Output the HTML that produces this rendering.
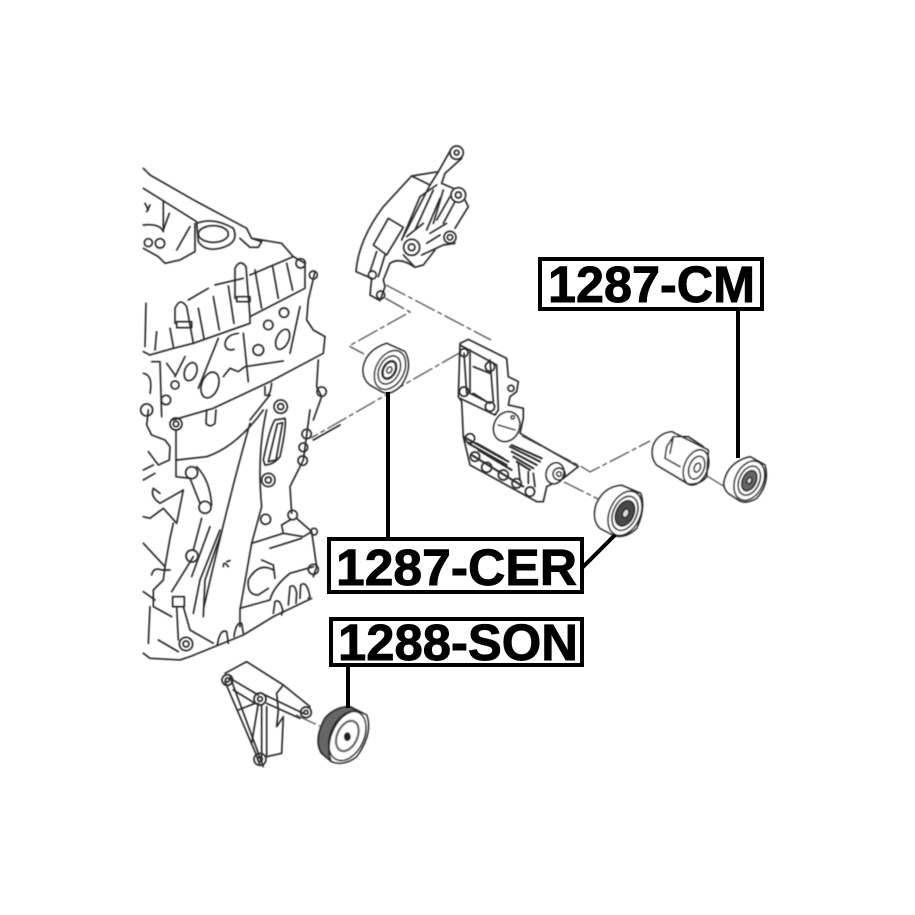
<!DOCTYPE html>
<html><head><meta charset="utf-8"><style>
html,body{margin:0;padding:0;background:#fff}
svg{display:block}
.l{fill:none;stroke:#2a2a2a;stroke-width:5;stroke-linecap:round;stroke-linejoin:round}
.d{fill:none;stroke:#555;stroke-width:1.3;stroke-dasharray:22 3 5 3}
.t{font-family:"Liberation Sans",sans-serif;font-weight:bold;font-size:51px;fill:#000;stroke:#000;stroke-width:.9}
</style></head><body>
<svg width="915" height="915" viewBox="0 0 915 915" xmlns="http://www.w3.org/2000/svg">
<defs><filter id="b" x="-5%" y="-5%" width="110%" height="110%"><feGaussianBlur stdDeviation=".45"/></filter></defs>
<rect width="915" height="915" fill="#fff"/>
<g filter="url(#b)">
<!-- engine top -->
<g transform="translate(130,160) scale(.3333)" class="l">
<path d="M40,25 L60,45 L200,125 L350,205 L365,235 L395,245 L385,262 L360,262 L330,235 M365,235 L455,250 L490,290 L525,310 L525,385 L360,470 L360,490 L190,550 L130,565 L60,585 L40,575"/>
<path d="M40,85 L200,185 M200,190 Q250,170 310,205 Q330,250 270,265 Q225,275 205,245 Z"/>
<ellipse cx="250" cy="222" rx="45" ry="25"/>
<path d="M195,190 L195,275 L150,300 L105,310 L85,290 L40,265"/>
<path d="M100,125 L100,215 M118,160 L100,210 M180,200 L140,270 M45,130 L55,150 M60,135 L50,155 M40,195 Q90,190 100,215"/>
<circle cx="90" cy="250" r="14"/><circle cx="55" cy="248" r="12"/>
<path d="M490,290 L360,345 M340,355 L255,375 M235,385 L175,420"/>
<path d="M315,415 L315,325 Q330,295 348,320 L360,470"/>
<path d="M135,490 L135,445 Q150,410 170,440 L190,550"/>
<rect x="320" y="410" width="40" height="15"/><rect x="140" y="485" width="45" height="18"/>
<path d="M375,330 L395,445 M428,320 L445,415 M470,310 L488,390 M295,378 L312,490 M250,410 L268,510 M205,445 L222,535 M80,515 L75,570 M120,505 L130,560 M48,430 L45,560"/>
<path d="M555,335 L535,420 L530,480 L550,510 L585,530 L580,580 L420,665 L250,745 L130,780"/>
<circle cx="550" cy="345" r="12"/><circle cx="512" cy="310" r="14"/>
<path d="M325,520 Q285,525 285,555 Q290,575 312,568 M340,520 L355,665 M265,535 L205,685"/>
<ellipse cx="240" cy="675" rx="25" ry="40" transform="rotate(20 240 675)"/>
<ellipse cx="458" cy="538" rx="18" ry="32" transform="rotate(25 458 538)"/>
<circle cx="385" cy="570" r="16"/><circle cx="462" cy="458" r="14"/><circle cx="415" cy="495" r="14"/>
<path d="M280,650 L300,625 L325,635 L345,620 L460,603 M510,440 L480,580"/>
<path d="M565,600 L560,680 L575,710 L550,780"/>
<circle cx="575" cy="695" r="14"/>
<path d="M405,680 L405,705 Q420,715 425,670"/>
<circle cx="452" cy="740" r="20"/><circle cx="452" cy="740" r="9"/>
<path d="M360,780 L420,705"/>
<path d="M40,640 Q70,645 60,700 M65,605 L90,605 L95,770 M110,610 L135,645 M165,590 L135,650"/>
<ellipse cx="182" cy="635" rx="18" ry="28" transform="rotate(20 182 635)"/>
<circle cx="135" cy="675" r="12"/><circle cx="108" cy="720" r="14"/><circle cx="50" cy="750" r="18"/>
</g>

<!-- engine bottom -->
<g transform="translate(130,410) scale(.3333)" class="l">
<circle cx="138" cy="42" r="18"/><circle cx="138" cy="42" r="8"/>
<path d="M138,60 L138,200 L180,205 M140,150 L230,140 Q320,110 400,0"/>
<path d="M230,0 L228,40 Q240,55 255,40 L258,0"/>
<path d="M55,0 L50,45 L65,75 L105,90 L120,110 L118,150 L85,165 L55,125"/>
<path d="M40,180 L70,165 M40,210 L75,190"/>
<circle cx="185" cy="188" r="18"/><circle cx="225" cy="292" r="18"/>
<path d="M200,170 Q240,210 245,285 M180,205 L210,280"/>
<path d="M215,325 L190,420 M240,350 L185,500 M270,360 L210,510 L190,610 M275,365 L225,510 L220,620"/>
<circle cx="186" cy="438" r="18"/>
<path d="M360,40 Q300,250 222,590 M410,0 Q380,130 395,290 L365,400 L330,600 L330,650"/>
<path d="M435,30 L465,25 Q470,50 450,140 Q430,165 405,165 L400,150 Q420,50 435,30 Z M442,42 L458,38 L438,150 L415,155 Z"/>
<circle cx="415" cy="210" r="20"/><circle cx="415" cy="210" r="9"/><circle cx="407" cy="328" r="15"/>
<path d="M540,0 L520,150 L480,230 L485,310"/>
<circle cx="530" cy="72" r="14"/><circle cx="520" cy="112" r="13"/><circle cx="518" cy="152" r="14"/>
<path d="M550,90 L630,45"/>
<circle cx="488" cy="315" r="14"/>
<path d="M480,330 L455,345 L460,370 L520,380 L545,365 L500,325 M460,370 L365,400 M515,385 L420,415 M545,365 L560,470 L550,500"/>
<circle cx="552" cy="365" r="10"/><circle cx="550" cy="478" r="15"/>
<path d="M550,470 L480,490 Q430,530 420,570 L330,595"/>
<path d="M430,480 Q385,455 355,510 Q350,555 385,555 L415,535 M435,505 L430,465 L395,450"/>
<path d="M430,610 L435,575 Q450,565 458,600 L455,615 M475,585 L480,530 Q495,520 500,550 L498,580 M510,565 L512,525 Q530,510 540,560 L535,565"/>
<path d="M262,705 Q270,655 290,665 L295,700 M312,680 Q318,635 335,640 L340,670"/>
<path d="M295,470 Q280,450 280,470 M290,455 L300,452"/>
<path d="M545,565 L430,620 L340,675 L180,740 L150,750 L60,745 L40,730"/>
<circle cx="168" cy="702" r="20"/><circle cx="168" cy="702" r="9"/>
<rect x="128" y="560" width="35" height="30"/>
<path d="M125,545 L190,440 M140,590 L145,690 M160,590 L180,660 L250,700"/>
<path d="M40,400 L105,470 L100,510 L70,540 L70,590 L125,620 M60,590 L55,700 M85,690 L145,725 M40,545 L75,570 M65,495 Q70,470 95,480 L120,480"/>
<path d="M130,340 L120,385 L105,470 M40,320 L60,325 L100,295 L140,340 L160,240 L90,280 Q60,260 70,235 L90,250"/>
</g>

<!-- upper bracket -->
<g transform="translate(340,140) scale(.3333)" class="l">
<circle cx="350" cy="38" r="20"/><circle cx="350" cy="38" r="7"/>
<path d="M333,28 L295,95 L215,108 L130,200 Q55,300 48,395 L95,415 L90,465 L120,482 L135,440 L130,420 L150,370"/>
<path d="M365,55 L315,100 L305,130 L340,145 M215,108 L270,135 L295,95 M270,135 L190,290"/>
<path d="M145,235 L190,262 L140,345 L100,315 Z"/>
<circle cx="355" cy="165" r="22"/><circle cx="355" cy="165" r="9"/>
<circle cx="330" cy="292" r="18"/><circle cx="330" cy="292" r="8"/>
<circle cx="215" cy="322" r="24"/><circle cx="215" cy="322" r="10"/>
<path d="M375,180 L385,200 L345,265 M310,150 L280,250 M330,170 L290,240 M345,185 L310,250 M290,135 L240,170 L185,300 M260,310 L300,285 M245,345 L310,315 L345,310 M190,345 L225,382 L250,375 L285,330 M280,150 L225,270 M300,175 L260,270 M270,280 L320,250 M200,290 L250,250"/>
<path d="M110,335 L90,395 M135,345 L115,410 M150,370 Q180,350 225,382"/>
<circle cx="97" cy="405" r="12"/><circle cx="122" cy="465" r="12"/>
</g>

<!-- dashed centre lines -->
<g class="d">
<path d="M386,285 L491,340"/>
<path d="M385,298 L410,312 L349,346 L364,354"/>
<path d="M461,352 L311,438"/>
<path d="M522,436 L582,467 L590,472 L650,441"/>
<path d="M564,482 L600,500"/>
<path d="M707,476 L725,487"/>
<path d="M296,715 L326,729"/>
</g>

<!-- main tensioner -->
<g transform="translate(440,330) scale(.3333)" class="l">
<path d="M60,40 L85,28 L200,85 L205,140 L235,155 L230,185 L210,200 L205,225 L250,235 L250,265 L240,310 L415,410 L370,445 L320,470 L310,515 L290,515 L90,405 L70,320 L65,215 L55,200 Z"/>
<path d="M60,45 L170,105 L175,240 L165,255 L60,205 M72,70 L80,190 M150,90 L160,215 M100,110 L150,130 M100,190 L140,215 M90,60 L90,190 L150,220"/>
<circle cx="72" cy="68" r="12"/><circle cx="150" cy="110" r="14"/><circle cx="72" cy="185" r="14"/><circle cx="150" cy="230" r="14"/>
<circle cx="213" cy="175" r="9"/>
<ellipse cx="200" cy="290" rx="38" ry="46" transform="rotate(25 200 290)" fill="#fff"/>
<circle cx="218" cy="262" r="5"/><path d="M175,285 L225,300"/>
<path d="M70,320 L205,395 M85,340 L200,405 M95,375 L250,470 M210,350 L300,395 M215,365 L290,405 M220,380 L280,415 M230,395 L270,420 M110,340 L190,385 M115,360 L215,420 M215,345 L305,385" stroke-width="6"/>
<circle cx="90" cy="325" r="14"/><circle cx="105" cy="380" r="14"/><circle cx="140" cy="412" r="15"/><circle cx="190" cy="435" r="15"/><circle cx="230" cy="460" r="14"/><circle cx="270" cy="485" r="14"/>
<path d="M235,400 L240,450 M265,425 L265,460 M280,430 L285,470"/>
<ellipse cx="345" cy="430" rx="26" ry="32" transform="rotate(20 345 430)" fill="#fff"/>
<circle cx="357" cy="432" r="18"/><circle cx="357" cy="432" r="7"/>
</g>

<!-- pulley CER -->
<g class="l" transform="translate(440,330) scale(.3333)">
<path d="M468,525 Q490,470 545,466 L602,490 Q618,535 590,595 Q555,628 520,616 L480,595 Q455,570 468,525 Z" fill="#fff"/>
<ellipse cx="555" cy="550" rx="46" ry="70" transform="rotate(25 555 550)"/>
<ellipse cx="555" cy="550" rx="35" ry="54" transform="rotate(25 555 550)"/>
<ellipse cx="555" cy="550" rx="26" ry="40" transform="rotate(25 555 550)" fill="#4a4a4a"/>
<ellipse cx="557" cy="550" rx="9" ry="14" transform="rotate(25 557 550)" fill="#ddd"/>
</g>
<!-- shaft -->
<g class="l" transform="translate(440,330) scale(.3333)">
<path d="M640,345 Q655,310 695,305 L805,360 L800,440 Q780,465 745,462 L650,405 Q630,380 640,345 Z" fill="#fff"/>
<ellipse cx="768" cy="412" rx="35" ry="55" transform="rotate(22 768 412)"/>
<ellipse cx="770" cy="413" rx="22" ry="36" transform="rotate(22 770 413)"/>
<ellipse cx="772" cy="413" rx="9" ry="14" transform="rotate(22 772 413)"/>
<path d="M680,350 L700,320 L745,320 L790,350 M680,350 L675,385 L720,410 M700,320 L690,370"/>
</g>
<!-- pulley CM -->
<g class="l" transform="translate(440,330) scale(.3333)">
<path d="M855,445 Q870,395 930,380 L975,405 Q990,460 950,505 Q915,525 895,510 L865,490 Q845,470 855,445 Z" fill="#fff"/>
<ellipse cx="928" cy="452" rx="42" ry="62" transform="rotate(25 928 452)"/>
<ellipse cx="928" cy="452" rx="30" ry="46" transform="rotate(25 928 452)"/>
<ellipse cx="928" cy="452" rx="20" ry="32" transform="rotate(25 928 452)" fill="#666"/>
<ellipse cx="928" cy="452" rx="7" ry="10" transform="rotate(25 928 452)" fill="#ddd"/>
</g>
<!-- pulley at 388 -->
<g class="l" transform="translate(340,140) scale(.3333)">
<path d="M70,680 Q80,630 140,610 L195,635 Q220,680 185,735 Q150,770 125,755 L90,735 Q65,715 70,680 Z" fill="#fff"/>
<ellipse cx="150" cy="690" rx="42" ry="62" transform="rotate(28 150 690)"/>
<ellipse cx="148" cy="690" rx="30" ry="45" transform="rotate(28 148 690)"/>
<ellipse cx="148" cy="690" rx="18" ry="28" transform="rotate(28 148 690)" stroke-width="8"/>
<ellipse cx="148" cy="690" rx="7" ry="10" transform="rotate(28 148 690)"/>
</g>

<!-- lower bracket and grooved pulley -->
<g transform="translate(210,650) scale(.3333)" class="l">
<path d="M45,70 L110,35 L220,105 L300,170 M45,95 L135,305 L150,345 M60,80 L160,350 M60,85 L145,135 M70,120 L135,160 M85,180 L135,160 M145,160 L125,280 M155,165 L155,320 M170,170 L170,320 L215,310 L220,200 L200,230 L205,180 L200,130 L220,105 M165,135 L280,190 M170,160 L270,205"/>
<circle cx="52" cy="90" r="16"/><circle cx="150" cy="147" r="18"/><circle cx="150" cy="328" r="18"/><circle cx="288" cy="187" r="16"/><circle cx="288" cy="187" r="6"/><circle cx="150" cy="328" r="7"/><circle cx="150" cy="147" r="7"/><circle cx="52" cy="90" r="6"/>
<path d="M345,205 Q375,170 420,170 L470,195 Q490,250 440,320 Q400,350 365,335 L335,310 Q310,270 345,205 Z" fill="#fff"/>
<path d="M345,205 Q375,170 420,170 L438,182 Q385,190 362,260 Q350,310 365,335 L335,310 Q310,270 345,205 Z" fill="#666" stroke-width="5"/>
<ellipse cx="412" cy="258" rx="50" ry="78" transform="rotate(25 412 258)"/>
<ellipse cx="412" cy="258" rx="30" ry="48" transform="rotate(25 412 258)" stroke-width="7" stroke="#666"/>
<ellipse cx="412" cy="260" rx="8" ry="11" fill="#222"/>
</g>
</g>

<!-- leaders -->
<g fill="none" stroke="#000" stroke-width="4">
<path d="M738,310 V458"/>
<path d="M388,392 V538"/>
<path d="M582,568 L615,535"/>
<path d="M348,665 V708"/>
</g>

<!-- labels -->
<g fill="#fff" stroke="#000" stroke-width="4">
<rect x="540" y="259" width="222" height="50"/>
<rect x="329" y="539" width="253" height="53"/>
<rect x="331" y="619" width="251" height="46"/>
</g>
<text class="t" x="548" y="302" textLength="207" lengthAdjust="spacingAndGlyphs">1287-CM</text>
<text class="t" x="336" y="585" textLength="241" lengthAdjust="spacingAndGlyphs">1287-CER</text>
<text class="t" x="338" y="660" textLength="240" lengthAdjust="spacingAndGlyphs">1288-SON</text>
</svg>
</body></html>
